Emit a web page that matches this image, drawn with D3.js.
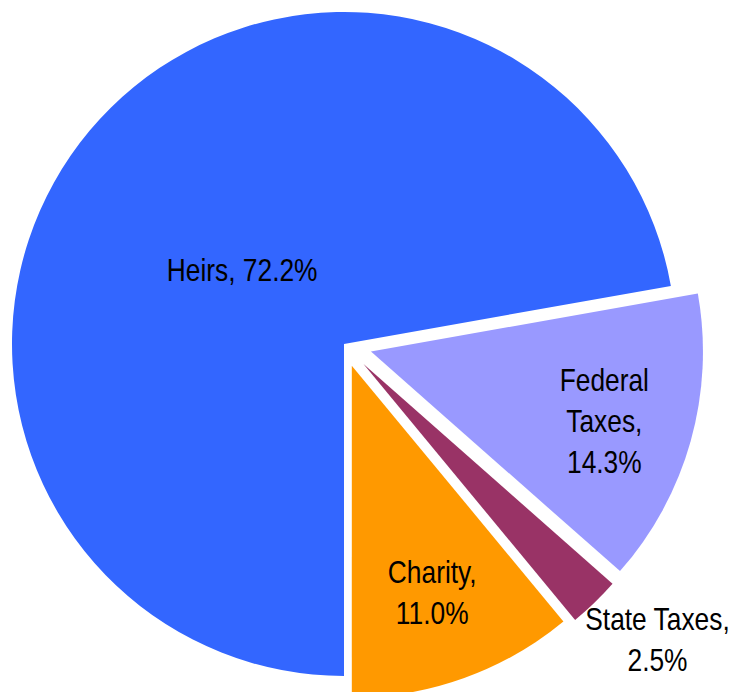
<!DOCTYPE html>
<html>
<head>
<meta charset="utf-8">
<script src="https://cdn.jsdelivr.net/npm/d3@7"></script>
<style>
  html, body { margin: 0; padding: 0; background: #fff; }
  svg { display: block; }
</style>
</head>
<body>
<svg id="chart" width="733" height="692"></svg>
<script>
// ---- data ----
const categories = ["Heirs", "Federal Taxes", "State Taxes", "Charity"];
const values = [72.2, 14.3, 2.5, 11.0];
const colors = ["#3366FF", "#9999FF", "#993366", "#FF9900"];

// ---- layout / style (not data) ----
const W = 733, H = 692;
const cx = 344, cy = 344, R = 332;
const explode = { "Heirs": 0, "Federal Taxes": 28, "State Taxes": 28, "Charity": 23 };
const labelRatio = { "Heirs": 0.386, "Federal Taxes": 0.73, "State Taxes": 1.205, "Charity": 0.715 };
const labelShiftDeg = { "Heirs": -2.6, "Federal Taxes": 0, "State Taxes": -3.2, "Charity": 0 };
const wrapMode = { "Heirs": "one", "Federal Taxes": "words", "State Taxes": "two", "Charity": "two" };
const fontSize = 31, lineH = 41, condense = 0.85;

const rows = categories.map((c, i) => ({ name: c, value: values[i], color: colors[i] }));

const svg = d3.select("#chart");
const g = svg.append("g").attr("transform", `translate(${cx},${cy})`);

const pie = d3.pie().value(d => d.value).sort(null)
  .startAngle(Math.PI).endAngle(3 * Math.PI);
const arcs = pie(rows);
const arc = d3.arc().innerRadius(0).outerRadius(R);

function offset(d) {
  const m = (d.startAngle + d.endAngle) / 2;
  const e = explode[d.data.name];
  return [Math.sin(m) * e, -Math.cos(m) * e];
}

const slices = g.selectAll("g.slice").data(arcs).join("g")
  .attr("class", "slice")
  .attr("transform", d => { const o = offset(d); return `translate(${o[0]},${o[1]})`; });

slices.append("path")
  .attr("d", arc)
  .attr("fill", d => d.data.color);

function labelLines(d) {
  const txt = `${d.data.name}, ${d.data.value.toFixed(1)}%`;
  const mode = wrapMode[d.data.name];
  if (mode === "one") return [txt];
  if (mode === "words") return txt.split(" ");
  const words = txt.split(" ");
  return [words.slice(0, -1).join(" "), words[words.length - 1]];
}

slices.each(function (d) {
  const r = R * labelRatio[d.data.name];
  const sh = labelShiftDeg[d.data.name] * Math.PI / 180;
  const la = d3.arc().innerRadius(r).outerRadius(r);
  const [lx, ly] = la.centroid({ startAngle: d.startAngle + sh, endAngle: d.endAngle + sh });
  const lines = labelLines(d);
  const t = d3.select(this).append("text")
    .attr("transform", `translate(${lx},${ly}) scale(${condense},1)`)
    .attr("font-family", "'Liberation Sans Narrow', 'Arial Narrow', 'Liberation Sans', Arial, sans-serif")
    .attr("font-size", fontSize)
    .attr("fill", "#000")
    .attr("text-anchor", "middle");
  const y0 = -(lines.length - 1) * lineH / 2 + 15;
  lines.forEach((s, i) => {
    t.append("tspan").attr("x", 0).attr("y", y0 + i * lineH).text(s);
  });
});
</script>
</body>
</html>
